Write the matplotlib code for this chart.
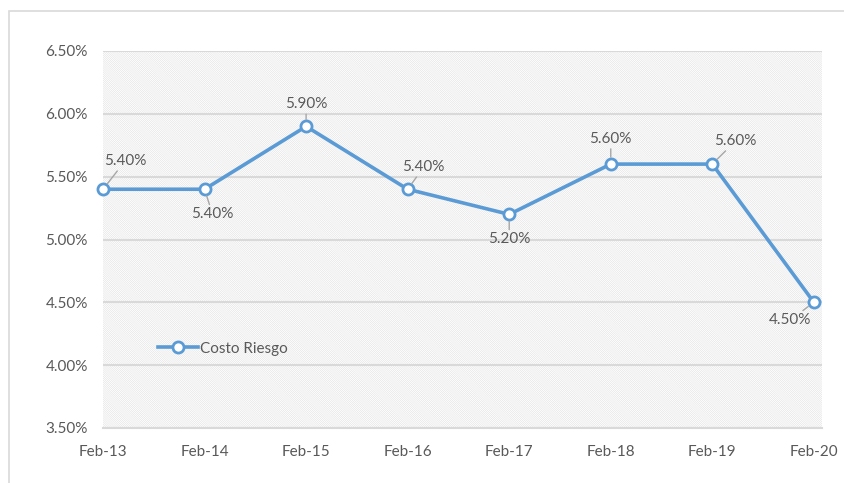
import matplotlib
matplotlib.use("Agg")
import matplotlib.pyplot as plt
from matplotlib.patches import Rectangle
from matplotlib.ticker import FuncFormatter

# Data
periods = ["Feb-13", "Feb-14", "Feb-15", "Feb-16", "Feb-17", "Feb-18", "Feb-19", "Feb-20"]
costo_riesgo = [5.40, 5.40, 5.90, 5.40, 5.20, 5.60, 5.60, 4.50]
series_name = "Costo Riesgo"
y_ticks = [3.50, 4.00, 4.50, 5.00, 5.50, 6.00, 6.50]

# label offsets in pixels (dx, dy), Excel-style moved labels
label_offsets = [(22, 28), (8, -25), (0, 22), (16, 22), (0, -25), (0, 25), (23, 23), (-24, -18)]

BLUE = "#5B9BD5"
TEXT = "#595959"
GRID = "#D9D9D9"

plt.rcParams["font.family"] = ["Lato", "DejaVu Sans"]
plt.rcParams["hatch.linewidth"] = 0.35
plt.rcParams["hatch.color"] = "#DDDDDD"

fig = plt.figure(figsize=(8.44, 4.83), dpi=100)

# chart border (Excel chart area), runs off the right/bottom edge
fig.patches.append(Rectangle((9 / 844, -0.05), 1.0, 1 - 11 / 483 + 0.05,
                             transform=fig.transFigure, fill=False,
                             edgecolor="#D9D9D9", linewidth=1.2))

ax = fig.add_axes([103 / 844, 55 / 483, 719 / 844, 377 / 483])

x = list(range(len(periods)))

# hatched plot area background
ax.add_patch(Rectangle((0, 0), 1, 1, transform=ax.transAxes, facecolor="white",
                       edgecolor="#DDDDDD", hatch="\\" * 16, linewidth=0, zorder=0))

for t in y_ticks:
    ax.axhline(t, color=GRID, linewidth=1.5, zorder=1)

ax.plot(x, costo_riesgo, color=BLUE, linewidth=2.6, marker="o", markersize=8,
        markerfacecolor="white", markeredgecolor=BLUE, markeredgewidth=2,
        label=series_name, zorder=3, clip_on=False)

for xi, yi, (dx, dy) in zip(x, costo_riesgo, label_offsets):
    ax.annotate(f"{yi:.2f}%", (xi, yi), xytext=(dx, dy), textcoords="offset pixels",
                ha="center", va="center", fontsize=11, color=TEXT, zorder=4,
                arrowprops=dict(arrowstyle="-", color="#A6A6A6", lw=1,
                                shrinkA=0, shrinkB=5))

ax.set_xlim(0, 7.08)
ax.set_ylim(3.50, 6.50)
ax.set_yticks(y_ticks)
ax.yaxis.set_major_formatter(FuncFormatter(lambda v, p: f"{v:.2f}%"))
ax.set_xticks(x)
ax.set_xticklabels(periods)
ax.tick_params(axis="both", length=0, labelsize=11, labelcolor=TEXT)
ax.tick_params(axis="y", pad=11)
ax.tick_params(axis="x", pad=12)

for side in ["top", "right", "left"]:
    ax.spines[side].set_visible(False)
ax.spines["bottom"].set_color(GRID)
ax.spines["bottom"].set_linewidth(1.5)

leg = ax.legend(loc="center left", bbox_to_anchor=(0.058, 0.21), frameon=False,
                fontsize=11, handlelength=2.6, handletextpad=0.1)
for t in leg.get_texts():
    t.set_color(TEXT)

fig.savefig("out.png", dpi=100)
